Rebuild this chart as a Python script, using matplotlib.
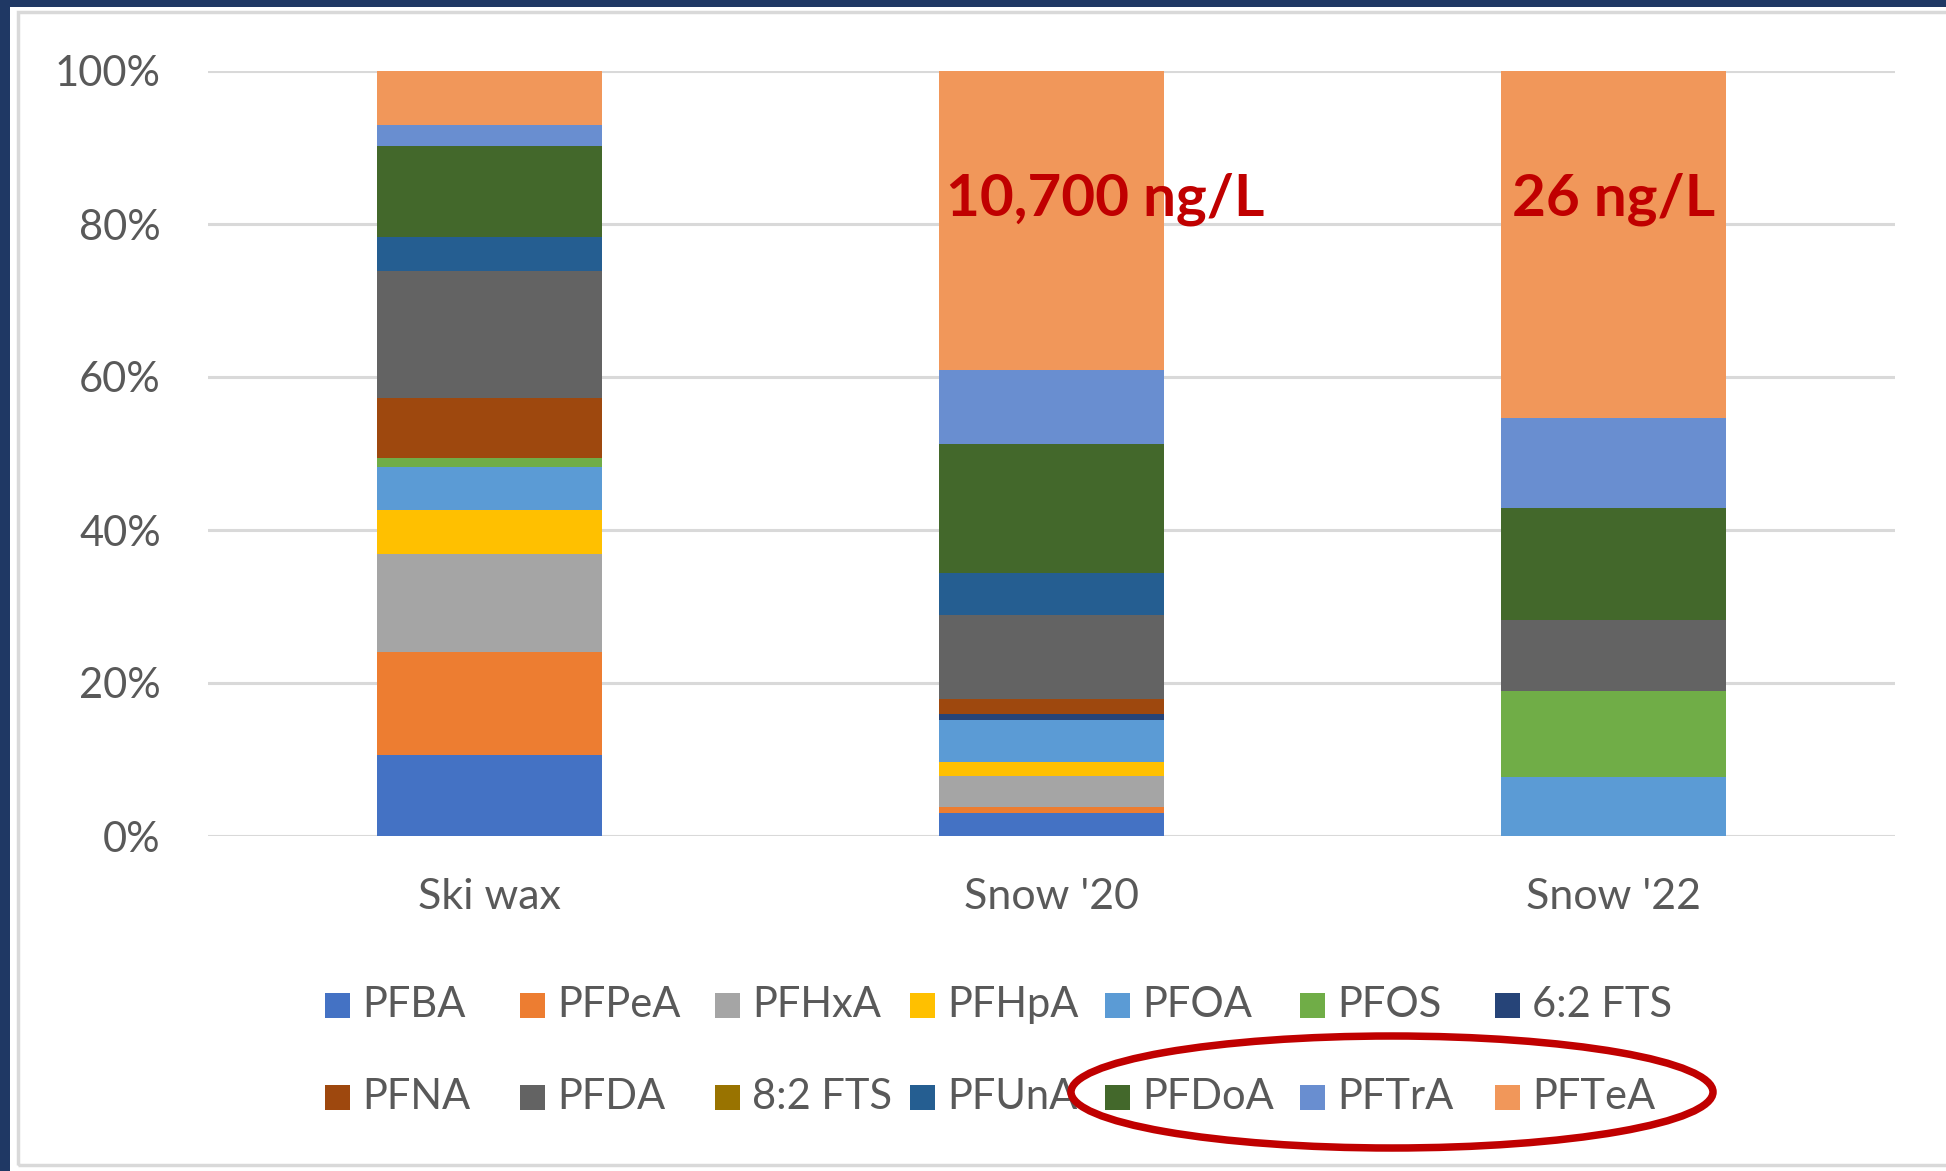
import matplotlib
matplotlib.use("Agg")
import matplotlib.pyplot as plt
from matplotlib.patches import Rectangle, Ellipse
import numpy as np

plt.rcParams['font.family'] = ['Lato', 'DejaVu Sans']

categories = ["Ski wax", "Snow '20", "Snow '22"]
compounds = ["PFBA", "PFPeA", "PFHxA", "PFHpA", "PFOA", "PFOS", "6:2 FTS",
             "PFNA", "PFDA", "8:2 FTS", "PFUnA", "PFDoA", "PFTrA", "PFTeA"]
colors = ["#4472C4", "#ED7D31", "#A5A5A5", "#FFC000", "#5B9BD5", "#70AD47", "#264478",
          "#9E480E", "#636363", "#997300", "#255E91", "#43682B", "#698ED0", "#F1975A"]

# percent share of each compound per sample (Ski wax, Snow '20, Snow '22)
PFBA    = [10.6, 3.0, 0.0]
PFPeA   = [13.5, 0.8, 0.0]
PFHxA   = [12.8, 4.0, 0.0]
PFHpA   = [5.7, 1.9, 0.0]
PFOA    = [5.6, 5.5, 7.7]
PFOS    = [1.2, 0.0, 11.3]
FTS62   = [0.0, 0.7, 0.0]
PFNA    = [7.85, 2.0, 0.0]
PFDA    = [16.65, 11.0, 9.3]
FTS82   = [0.0, 0.0, 0.0]
PFUnA   = [4.4, 5.5, 0.0]
PFDoA   = [11.85, 16.9, 14.6]
PFTrA   = [2.8, 9.6, 11.8]
PFTeA   = [7.05, 39.1, 45.3]

totals_text = ["", "10,700 ng/L", "26 ng/L"]

series = [PFBA, PFPeA, PFHxA, PFHpA, PFOA, PFOS, FTS62,
          PFNA, PFDA, FTS82, PFUnA, PFDoA, PFTrA, PFTeA]

W, H = 1946, 1171
fig = plt.figure(figsize=(W / 100, H / 100), dpi=100)
fig.patch.set_facecolor("white")

# screenshot frame
fig.patches.append(Rectangle((0, 1 - 7 / H), 1, 7 / H, transform=fig.transFigure,
                             facecolor="#1F3864", edgecolor="none", zorder=0))
fig.patches.append(Rectangle((0, 0), 10 / W, 1, transform=fig.transFigure,
                             facecolor="#1F3864", edgecolor="none", zorder=0))
fig.patches.append(Rectangle((18 / W, 6 / H), 1.2, 1 - 18 / H, transform=fig.transFigure,
                             facecolor="none", edgecolor="#D9D9D9", linewidth=2.5, zorder=0))

ax = fig.add_axes([208 / W, 1 - 836 / H, (1895 - 208) / W, (836 - 71) / H])
x = np.arange(len(categories))
bottom = np.zeros(len(categories))
for name, vals, c in zip(compounds, series, colors):
    v = np.array(vals, dtype=float)
    ax.bar(x, v, width=0.4, bottom=bottom, color=c, edgecolor="none", label=name, zorder=2)
    bottom += v

ax.set_xlim(-0.5, 2.5)
ax.set_ylim(0, 100)
ax.set_yticks(np.arange(0, 101, 20))
ax.set_yticklabels([f"{v}%" for v in range(0, 101, 20)])
ax.set_xticks(x)
ax.set_xticklabels(categories)
ax.grid(axis="y", color="#D9D9D9", linewidth=2.2, zorder=0)
ax.set_axisbelow(True)
for s in ax.spines.values():
    s.set_visible(False)
ax.tick_params(axis="both", length=0, labelcolor="#595959", labelsize=30)
ax.tick_params(axis="x", labelsize=31, pad=30)
ax.tick_params(axis="y", pad=34)

# concentration annotations
ax.text(0.812, 83.2, totals_text[1], color="#C00000", fontsize=42, fontweight="bold",
        ha="left", va="center", zorder=3)
ax.text(2.0, 83.2, totals_text[2], color="#C00000", fontsize=42, fontweight="bold",
        ha="center", va="center", zorder=3)

# legend grid (Excel-like, equal column widths)
col_x0, col_dx = 325, 195
row_y = [1005, 1097]
msize = 25
for i, (name, c) in enumerate(zip(compounds, colors)):
    r, k = divmod(i, 7)
    x0 = col_x0 + k * col_dx
    yc = row_y[r]
    fig.patches.append(Rectangle((x0 / W, 1 - (yc + msize / 2) / H), msize / W, msize / H,
                                 transform=fig.transFigure, facecolor=c, edgecolor="none"))
    fig.text((x0 + msize + 12) / W, 1 - yc / H, name, fontsize=30, color="#595959",
             ha="left", va="center")

# highlight ellipse
fig.patches.append(Ellipse((1392 / W, 1 - 1092 / H), 642 / W, 112 / H, transform=fig.transFigure,
                           facecolor="none", edgecolor="#C00000", linewidth=5.4, zorder=5))

fig.savefig("out.png", dpi=100, facecolor="white")
